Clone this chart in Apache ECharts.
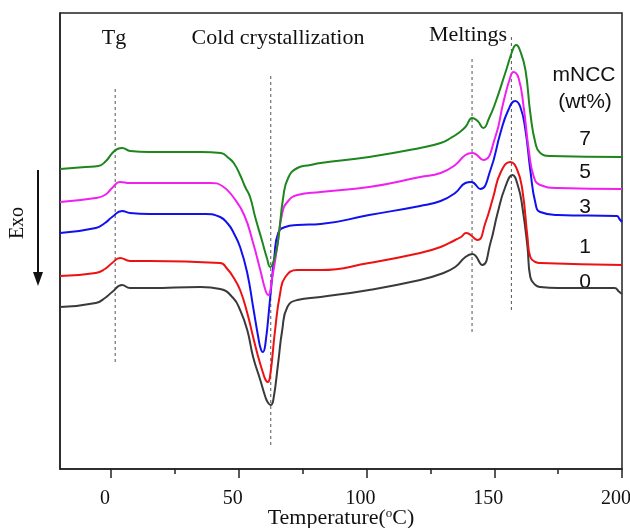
<!DOCTYPE html>
<html>
<head>
<meta charset="utf-8">
<script src="https://cdn.jsdelivr.net/npm/echarts@6/dist/echarts.min.js"></script>
<style>
  html, body { margin: 0; padding: 0; background: #fff; }
  #chart { width: 630px; height: 528px; }
</style>
</head>
<body>
<div id="chart"></div>
<script>
// DSC heating scans of PLA / mNCC composites: [temperature (°C), heat flow (a.u., curves offset)]
const curve0 = [
  [-20,162],[-6,166],[-2.4,171],[0.4,177],[4.3,184],[7.4,181],[15,181],[35,182],[42.7,180],
  [47.8,171],[50.5,159],[53.3,139],[55.6,112],[58.4,89],[60.4,72],[61.5,66],[62.5,64],[63.5,69],
  [65.4,106],[67,139],[69,162],[72.9,169],[82,172],[101,179],[121,189],[129,195],
  [134.7,202],[138.7,212],[141.4,215],[145.3,204],[148.5,226],[151.3,256],[154.3,282],
  [157.1,294],[159.4,282],[161,262],[163,222],[164.1,192],[166.1,184],[168,182],[175,181],
  [197,181],[199,177],[200,175]
];
const curve1 = [
  [-20,193],[-6,196],[-2.4,200],[0.4,206],[3.5,211],[7.4,208],[15,208],[42.7,206],[45.5,200],
  [47.8,192],[50.5,179],[53.3,156],[55.6,132],[57.6,112],[59.5,96],[60.5,89],[61.3,87],[62.2,92],
  [64.2,139],[66.2,176],[68.2,192],[72.9,199],[82,199],[101,206],[121,216],[129,222],
  [134.7,229],[137,232],[139,236],[143.4,229],[146.5,246],[149.6,272],[152.4,296],
  [156.3,307],[159,299],[161,279],[163,232],[164.1,212],[166.1,207],[168,206],[200,204]
];
const curve3 = [
  [-20,236],[-6,241],[-2.4,246],[0.4,252],[4.3,258],[7.4,256],[15,255],[37,255],[42.7,252],
  [45.8,245],[48,236],[50.5,222],[53.3,196],[55.6,162],[57.6,132],[58.6,120],[59.4,117],[60.4,125],
  [62.3,172],[63.9,212],[65.4,236],[68.2,242],[72.9,244],[82,245],[101,254],[121,263],
  [129,268],[134.7,276],[138.7,286],[141,287],[144.5,280],[148.5,299],[152.4,336],
  [155.5,359],[158.2,368],[160.2,362],[162.2,339],[164.1,299],[166.1,266],[168,257],
  [175,254],[198,253],[199,250],[200,247]
];
const curve5 = [
  [-20,267],[-6,271],[-2.4,274],[0.4,281],[3.5,287],[7.4,286],[15,286],[39,286],[43.5,283],
  [47.8,272],[52.1,254],[55.6,226],[58.4,199],[60.4,179],[61.5,174],[63.1,192],[65,222],
  [67,256],[69,267],[72.9,274],[82,277],[101,282],[121,292],[129,296],[134.7,304],
  [138.7,314],[141.4,316],[145.7,309],[150.4,332],[153.5,366],[156.3,392],[157.5,397],
  [159.5,391],[161.5,362],[163.5,319],[165.5,292],[168,284],[175,281],[200,280]
];
const curve7 = [
  [-20,300],[-10,302],[-5,303],[-2,308],[0.5,316],[2.5,320],[4.3,321],[7.5,318],[15,317],
  [35,317],[43,316],[46,311],[48,306],[50.5,294],[52.5,282],[54.4,272],[56.4,252],[59,229],
  [61,211],[62.3,202],[64,211],[65.4,229],[67.4,272],[69.3,291],[72.9,301],[78,304],
  [82,306],[101,312],[121,321],[129,326],[133,331],[136,336],[138.7,342],[141.4,351],
  [143.5,348],[145.7,341],[148,351],[150.4,366],[154.3,396],[157.5,421],[158.6,424],
  [160,419],[162.2,399],[164.1,356],[166.1,326],[168,316],[172,313],[200,312]
];

// Vertical guides: [temperature, lower end, upper end]
const guides = [
  [1.6, 107, 382],
  [62.5, 24, 396],
  [141.3, 137, 411],
  [156.7, 159, 434]
];

const majorTicks = [0, 50, 100, 150, 200];
const minorTicks = [25, 75, 125, 175];

const curves = [
  { name: '0', data: curve0, color: '#3a3a3a' },
  { name: '1', data: curve1, color: '#ee1111' },
  { name: '3', data: curve3, color: '#1111ee' },
  { name: '5', data: curve5, color: '#f020f0' },
  { name: '7', data: curve7, color: '#1e861e' }
];

const serif = '"Liberation Serif", "Times New Roman", serif';
const sans = '"Liberation Sans", Arial, sans-serif';

const series = [];
guides.forEach(function (g) {
  series.push({
    type: 'line',
    xAxisIndex: 0,
    data: [[g[0], g[1]], [g[0], g[2]]],
    symbol: 'none',
    silent: true,
    lineStyle: { color: '#555', width: 1, type: [3, 3] },
    z: 1
  });
});
curves.forEach(function (c) {
  series.push({
    name: c.name,
    type: 'line',
    xAxisIndex: 0,
    data: c.data,
    symbol: 'none',
    smooth: 0.5,
    lineStyle: { color: c.color, width: 2 },
    z: 3
  });
});

function label(text, x, y, font) {
  return { type: 'text', x: x, y: y, style: { text: text, font: font, fill: '#111', textAlign: 'center', textVerticalAlign: 'middle' } };
}

const chart = echarts.init(document.getElementById('chart'), null, { renderer: 'canvas' });
chart.setOption({
  animation: false,
  backgroundColor: '#fff',
  grid: {
    left: 60, right: 8, top: 13, bottom: 59,
    outerBoundsMode: 'none', containLabel: false,
    show: true, borderColor: '#222', borderWidth: 1.5, backgroundColor: 'transparent'
  },
  xAxis: [
    {
      type: 'value', min: -20, max: 200,
      axisLine: { onZero: false, lineStyle: { color: '#222', width: 1.5 } },
      axisTick: { customValues: majorTicks, length: 9, inside: false, lineStyle: { color: '#222', width: 1.5 } },
      axisLabel: {
        customValues: majorTicks, margin: 20, fontFamily: serif, fontSize: 20, color: '#111',
        padding: [0, 12, 0, 0]
      },
      splitLine: { show: false }
    },
    {
      type: 'value', min: -20, max: 200, position: 'bottom',
      axisLine: { show: false, onZero: false },
      axisTick: { customValues: minorTicks, length: 5, inside: false, lineStyle: { color: '#222', width: 1.5 } },
      axisLabel: { show: false, customValues: minorTicks },
      splitLine: { show: false }
    }
  ],
  yAxis: {
    type: 'value', min: 0, max: 456,
    axisLine: { show: true, onZero: false, lineStyle: { color: '#222', width: 1.5 } },
    axisTick: { show: false },
    axisLabel: { show: false },
    splitLine: { show: false }
  },
  series: series,
  graphic: [
    // x-axis title with superscript degree mark
    {
      type: 'text', x: 341, y: 518,
      style: {
        text: 'Temperature({sup|o}C)', font: '22px ' + serif, fill: '#111',
        textAlign: 'center', textVerticalAlign: 'middle',
        rich: { sup: { font: '13px ' + serif, fill: '#111', verticalAlign: 'top', padding: [0, 0, 8, 0] } }
      }
    },
    label('Tg', 114, 38, '22px ' + serif),
    label('Cold crystallization', 278, 38, '22px ' + serif),
    label('Meltings', 468, 35, '22px ' + serif),
    label('mNCC', 584, 75, '21px ' + sans),
    label('(wt%)', 585, 102, '21px ' + sans),
    label('7', 585, 139, '21px ' + sans),
    label('5', 585, 172, '21px ' + sans),
    label('3', 585, 207, '21px ' + sans),
    label('1', 585, 247, '21px ' + sans),
    label('0', 585, 282, '21px ' + sans),
    // Exo direction indicator
    { type: 'text', x: 18, y: 223, rotation: Math.PI / 2, style: { text: 'Exo', font: '20px ' + serif, fill: '#111', textAlign: 'center', textVerticalAlign: 'middle' } },
    { type: 'line', shape: { x1: 38, y1: 170, x2: 38, y2: 274 }, style: { stroke: '#111', lineWidth: 2 } },
    { type: 'polygon', shape: { points: [[33, 272], [43, 272], [38, 286]] }, style: { fill: '#111' } }
  ]
});
</script>
</body>
</html>
